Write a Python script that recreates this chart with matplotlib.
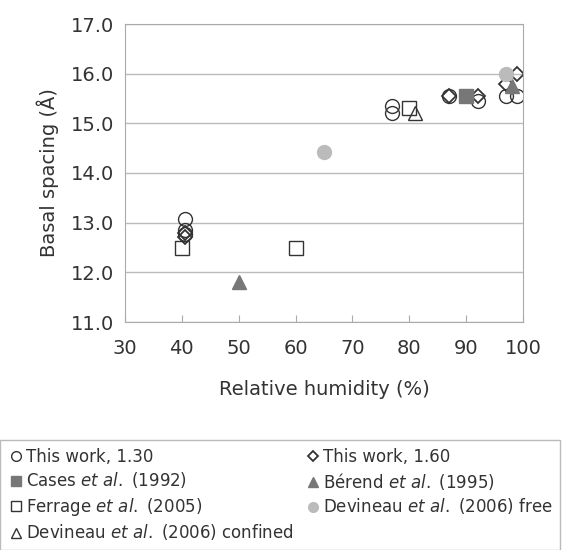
import matplotlib
matplotlib.use('Agg')
import matplotlib.pyplot as plt

# (relative humidity %, basal spacing A)
work130_x = [40.5, 40.5, 40.5, 77, 77, 87, 92, 97, 99]
work130_y = [13.08, 12.85, 12.78, 15.35, 15.2, 15.55, 15.45, 15.55, 15.55]
work160_x = [40.5, 40.5, 87, 92, 97, 99]
work160_y = [12.8, 12.72, 15.55, 15.55, 15.8, 16.0]
cases_x, cases_y = [90], [15.55]
berend_x, berend_y = [50, 98], [11.8, 15.75]
ferrage_x, ferrage_y = [40, 60, 80], [12.5, 12.5, 15.3]
dev_free_x, dev_free_y = [65, 97], [14.43, 16.0]
dev_conf_x, dev_conf_y = [81], [15.2]

dark = '#333333'
mid = '#777777'
light = '#bbbbbb'

fig = plt.figure(figsize=(5.63, 5.5), dpi=100)
ax = fig.add_axes([125 / 563, 1 - 322 / 550, 398 / 563, 298 / 550])

ms = 10
h130, = ax.plot(work130_x, work130_y, 'o', ms=ms, mfc='none', mec=dark, mew=1, label='This work, 1.30')
h160, = ax.plot(work160_x, work160_y, 'D', ms=ms * 0.75, mfc='none', mec=dark, mew=1.3, label='This work, 1.60')
hca, = ax.plot(cases_x, cases_y, 's', ms=ms, color=mid, label=r'Cases $\mathit{et\ al.}$ (1992)')
hbe, = ax.plot(berend_x, berend_y, '^', ms=ms, color=mid, label=r'Bérend $\mathit{et\ al.}$ (1995)')
hfe, = ax.plot(ferrage_x, ferrage_y, 's', ms=ms, mfc='none', mec=dark, mew=1, label=r'Ferrage $\mathit{et\ al.}$ (2005)')
hdf, = ax.plot(dev_free_x, dev_free_y, 'o', ms=ms, color=light, label=r'Devineau $\mathit{et\ al.}$ (2006) free')
hdc, = ax.plot(dev_conf_x, dev_conf_y, '^', ms=ms, mfc='none', mec=dark, mew=1, label=r'Devineau $\mathit{et\ al.}$ (2006) confined')

ax.set_xlim(30, 100)
ax.set_ylim(11, 17)
ax.set_xticks(range(30, 101, 10))
ax.set_yticks(range(11, 18))
ax.set_yticklabels([f'{v:.1f}' for v in range(11, 18)])
ax.yaxis.grid(True, color='#bbbbbb', lw=1)
ax.set_axisbelow(True)
for s in ax.spines.values():
    s.set_color('#aaaaaa')
ax.tick_params(axis='y', length=0, labelsize=14, colors='#333333', pad=8)
ax.tick_params(axis='x', length=5, direction='in', color='#aaaaaa', labelsize=14, colors='#333333', pad=12)
ax.set_xlabel('Relative humidity (%)', fontsize=14, color='#333333', labelpad=16)
ax.set_ylabel('Basal spacing (Å)', fontsize=14, color='#333333', labelpad=8)

order = [h130, hca, hfe, hdc, h160, hbe, hdf]
leg = fig.legend(handles=order, loc='lower left', bbox_to_anchor=(0.0, 0.0, 0.995, 113 / 550), mode='expand',
                 ncol=2, fontsize=12, frameon=True, fancybox=False, handletextpad=0.1,
                 handlelength=1, markerscale=0.7, borderpad=0.45, labelspacing=0.3,
                 borderaxespad=0.0, columnspacing=1)
leg.get_frame().set_edgecolor('#aaaaaa')
for t in leg.get_texts():
    t.set_color('#333333')

fig.savefig('out.png', dpi=100)
